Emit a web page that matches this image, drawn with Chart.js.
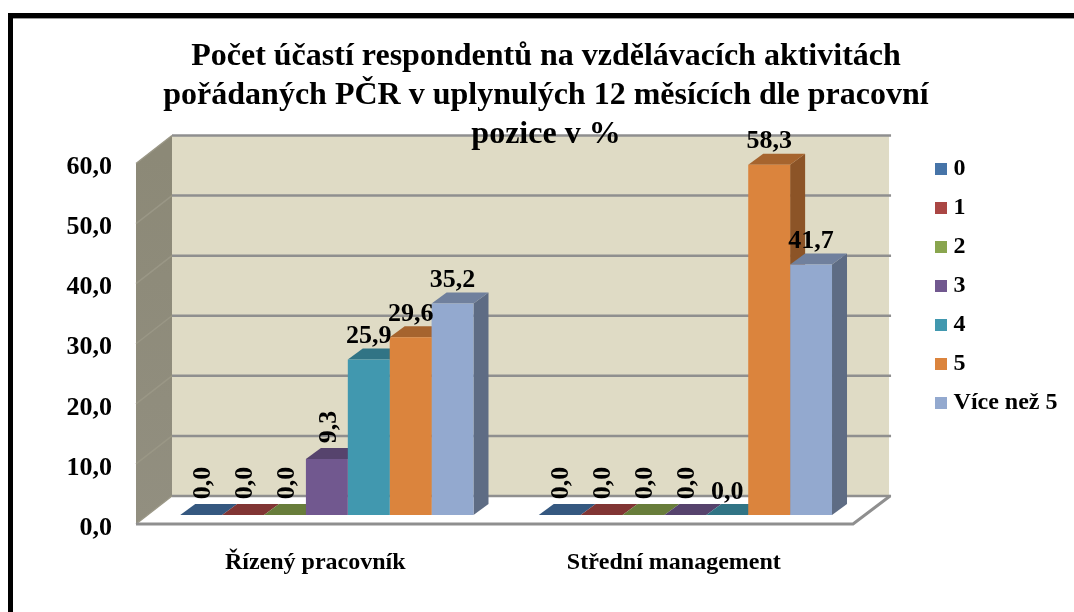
<!DOCTYPE html>
<html lang="cs">
<head>
<meta charset="utf-8">
<title>Počet účastí</title>
<style>html,body{margin:0;padding:0;background:#fff}canvas{display:block}</style>
<script src="https://cdn.jsdelivr.net/npm/chart.js@4/dist/chart.umd.min.js"></script>
</head>
<body>
<canvas id="c" width="1074" height="612"></canvas>
<script>
const titleLines = ['Počet účastí respondentů na vzdělávacích aktivitách','pořádaných PČR v uplynulých 12 měsících dle pracovní','pozice v %'];
const categories = ['Řízený pracovník','Střední management'];
const seriesNames = ['0','1','2','3','4','5','Více než 5'];
const series0 = [0,0];
const series1 = [0,0];
const series2 = [0,0];
const series3 = [9.3,0];
const series4 = [25.9,0];
const series5 = [29.6,58.3];
const series6 = [35.2,41.7];
const seriesValues = [series0,series1,series2,series3,series4,series5,series6];
const seriesColors = ['#4674A8','#AA4644','#89A54E','#71588F','#4198AF','#DB843D','#93A9CF'];
const rotatedLabels = [[true,true],[true,true],[true,true],[true,true],[false,false],[false,false],[false,false]];
const yTicks = [0,10,20,30,40,50,60];

const FONT = '"Liberation Serif"';
const fmt = v => v.toFixed(1).replace('.',',');
// 3-D offsets of the box around the plane in which the bars stand
const FRONT = {x:-11.6, y:9};
const BACK  = {x:24.4, y:-19};
const BAR   = {x:15, y:-11};

function shade(hex,f){
  const n=parseInt(hex.slice(1),16);
  return `rgb(${Math.round((n>>16)*f)},${Math.round(((n>>8)&255)*f)},${Math.round((n&255)*f)})`;
}
function poly(ctx,pts,fill){
  ctx.beginPath();
  pts.forEach((p,i)=>i?ctx.lineTo(p[0],p[1]):ctx.moveTo(p[0],p[1]));
  ctx.closePath();
  ctx.fillStyle=fill;
  ctx.fill();
}
function swatch(color){
  const s=document.createElement('canvas');
  s.width=12;s.height=12;
  const g=s.getContext('2d');
  g.fillStyle=color;g.fillRect(0,0,12,12);
  return s;
}

const box3d = {
  id:'box3d',
  afterLayout(chart){
    chart.legend.bottom -= 41;
  },
  beforeDraw(chart){
    const ctx=chart.ctx, a=chart.chartArea, y=chart.scales.y;
    ctx.save();
    ctx.fillStyle='#fff';ctx.fillRect(0,0,chart.width,chart.height);
    // picture frame
    ctx.fillStyle='#000';
    ctx.fillRect(8,13,chart.width-8,5);
    ctx.fillRect(8,13,5,chart.height-13);
    ctx.fillStyle='#9a9a9a';
    ctx.fillRect(13,18,chart.width-13,1);

    const y0=y.getPixelForValue(0), y60=y.getPixelForValue(60);
    const fl=a.left+FRONT.x, fr=a.right+FRONT.x, bl=a.left+BACK.x, br=a.right+BACK.x;
    // back wall
    poly(ctx,[[bl,y60+BACK.y],[br,y60+BACK.y],[br,y0+BACK.y],[bl,y0+BACK.y]],'#DFDBC5');
    // side wall
    const g=ctx.createLinearGradient(0,y60,0,y0+FRONT.y);
    g.addColorStop(0,'#8C8977');g.addColorStop(1,'#928F80');
    poly(ctx,[[fl,y60+FRONT.y],[bl,y60+BACK.y],[bl,y0+BACK.y],[fl,y0+FRONT.y]],g);
    // floor
    poly(ctx,[[fl,y0+FRONT.y],[bl,y0+BACK.y],[br,y0+BACK.y],[fr,y0+FRONT.y]],'#fff');
    // gridlines
    ctx.lineWidth=2.5;ctx.strokeStyle='#8F8F8F';
    yTicks.forEach(v=>{
      const p=y.getPixelForValue(v);
      ctx.beginPath();ctx.moveTo(bl,p+BACK.y);ctx.lineTo(br+2,p+BACK.y);ctx.stroke();
    });
    ctx.lineWidth=1.5;ctx.strokeStyle='#9A9786';
    yTicks.forEach(v=>{
      const p=y.getPixelForValue(v);
      ctx.beginPath();ctx.moveTo(fl,p+FRONT.y);ctx.lineTo(bl,p+BACK.y);ctx.stroke();
    });
    // floor edges
    ctx.lineWidth=3;ctx.strokeStyle='#8F8F8F';
    ctx.beginPath();ctx.moveTo(fl,y0+FRONT.y);ctx.lineTo(fr,y0+FRONT.y);ctx.lineTo(br+1,y0+BACK.y);ctx.stroke();
    ctx.restore();
  },
  beforeDatasetsDraw(chart){
    const ctx=chart.ctx;
    ctx.save();
    chart.data.datasets.forEach((ds,i)=>{
      chart.getDatasetMeta(i).data.forEach(el=>{
        const p=el.getProps(['x','y','base','width'],true);
        const l=p.x-p.width/2, r=p.x+p.width/2;
        poly(ctx,[[r,p.y],[r+BAR.x,p.y+BAR.y],[r+BAR.x,p.base+BAR.y],[r,p.base]],shade(ds.backgroundColor,.64));
        poly(ctx,[[l,p.y],[l+BAR.x,p.y+BAR.y],[r+BAR.x,p.y+BAR.y],[r,p.y]],shade(ds.backgroundColor,.76));
      });
    });
    ctx.restore();
  },
  afterDatasetsDraw(chart){
    const ctx=chart.ctx;
    ctx.save();
    ctx.fillStyle='#000';
    ctx.font='bold 26px '+FONT;
    ctx.textAlign='center';
    ctx.textBaseline='middle';
    chart.data.datasets.forEach((ds,i)=>{
      chart.getDatasetMeta(i).data.forEach((el,j)=>{
        const p=el.getProps(['x','y'],true);
        const text=fmt(ds.data[j]);
        ctx.save();
        if(rotatedLabels[i][j]){
          ctx.translate(p.x+2,p.y-32);
          ctx.rotate(-Math.PI/2);
        }else{
          ctx.translate(p.x,p.y-23);
        }
        ctx.fillText(text,0,0);
        ctx.restore();
      });
    });
    ctx.restore();
  }
};

new Chart(document.getElementById('c'),{
  type:'bar',
  data:{
    labels:categories,
    datasets:seriesNames.map((n,i)=>({
      label:n,
      data:seriesValues[i],
      backgroundColor:seriesColors[i],
      borderWidth:0,
      categoryPercentage:.818,
      barPercentage:1,
      yAxisID:'y'
    }))
  },
  plugins:[box3d],
  options:{
    responsive:false,
    animation:false,
    layout:{padding:{left:24.5,right:6.5,top:0,bottom:0}},
    plugins:{
      tooltip:{enabled:false},
      title:{
        display:true,
        text:titleLines,
        color:'#000',
        font:{family:FONT,size:32,weight:'bold',lineHeight:39/32},
        padding:{top:37.5,bottom:0}
      },
      legend:{
        position:'right',
        fullSize:true,
        onClick:null,
        labels:{
          color:'#000',
          font:{family:FONT,size:24,weight:'bold'},
          padding:15,
          usePointStyle:true,
          pointStyleWidth:1,
          boxHeight:12,
          generateLabels(chart){
            return chart.data.datasets.map((ds,i)=>({
              text:ds.label,
              datasetIndex:i,
              fontColor:'#000',
              lineWidth:0,
              hidden:false,
              pointStyle:swatch(ds.backgroundColor)
            }));
          }
        }
      }
    },
    scales:{
      x:{
        type:'category',
        grid:{display:false},
        border:{display:false},
        afterFit(s){s.height=97;},
        ticks:{
          color:'#000',
          font:{family:FONT,size:24,weight:'bold'},
          labelOffset:FRONT.x,
          padding:25.6,
          maxRotation:0,
          autoSkip:false
        }
      },
      y:{
        type:'linear',
        min:0,max:60,
        grid:{display:false},
        border:{display:false},
        afterFit(s){s.width=123.1;},
        ticks:{
          color:'#000',
          font:{family:FONT,size:26,weight:'bold'},
          stepSize:10,
          labelOffset:13,
          padding:27.6,
          callback:v=>fmt(v)
        }
      },
      gap:{
        type:'linear',
        position:'right',
        grid:{display:false},
        border:{display:false},
        ticks:{display:false},
        afterFit(s){s.width=60.9;}
      }
    }
  }
});
</script>
</body>
</html>
